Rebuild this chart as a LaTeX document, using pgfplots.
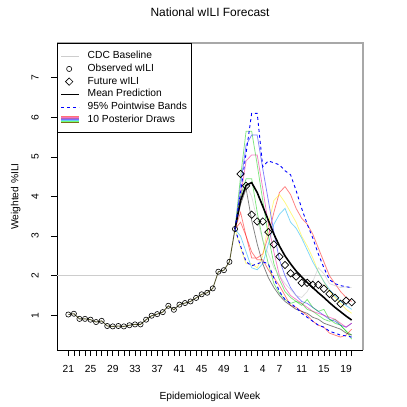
\documentclass[border=0pt]{standalone}
\usepackage{fontspec}
\setmainfont{Liberation Sans}
\usepackage{pgfplots}
\usepackage{pgfplotstable}
\pgfplotsset{compat=1.18}
\usetikzlibrary{calc}

\definecolor{histline}{RGB}{88,88,48}
\definecolor{cdcgray}{RGB}{205,205,205}
\definecolor{framegray}{RGB}{168,168,168}
\definecolor{green3}{RGB}{0,205,0}
\definecolor{gray62}{RGB}{190,190,190}
\definecolor{bandblue}{RGB}{0,0,255}

\newcommand{\fs}{\fontsize{10.3}{12}\selectfont}

% observed wILI, season index 1 = week 21
\pgfplotstableread{
idx val
1 1.02
2 1.04
3 0.91
4 0.91
5 0.89
6 0.83
7 0.86
8 0.73
9 0.72
10 0.73
11 0.72
12 0.75
13 0.77
14 0.77
15 0.89
16 0.99
17 1.03
18 1.08
19 1.24
20 1.14
21 1.27
22 1.31
23 1.35
24 1.44
25 1.53
26 1.57
27 1.68
28 2.10
29 2.14
30 2.35
31 3.18
}\observed

% future wILI (held out)
\pgfplotstableread{
idx val
32 4.57
33 4.27
34 3.54
35 3.37
36 3.37
37 3.10
38 2.79
39 2.48
40 2.27
41 2.06
42 1.98
43 1.82
44 1.82
45 1.77
46 1.77
47 1.67
48 1.54
49 1.44
50 1.29
51 1.37
52 1.33
}\future

% mean, 95% bands and 10 posterior draws
\pgfplotstableread{
idx mean lo hi d1 d2 d3 d4 d5 d6 d7 d8 d9 d10
31 3.18 3.18 3.18 3.18 3.18 3.18 3.18 3.18 3.18 3.18 3.18 3.18 3.18
32 3.90 2.75 4.10 3.60 2.70 3.00 4.50 4.30 4.00 4.00 3.90 3.35 3.80
33 4.28 2.35 5.10 3.00 2.30 2.60 5.65 5.30 4.90 4.45 4.30 3.00 4.20
34 4.35 2.25 6.10 2.45 2.30 2.20 5.65 5.55 5.05 4.45 4.00 2.60 3.40
35 4.10 2.30 6.10 2.45 2.20 2.15 4.80 5.55 5.05 3.60 3.40 2.40 2.80
36 3.75 2.35 4.75 2.55 2.50 2.30 3.90 4.70 4.20 2.90 2.90 2.40 2.30
37 3.40 2.30 4.90 3.00 3.30 2.80 3.00 3.90 3.30 2.30 2.55 2.15 1.95
38 3.05 1.95 4.85 3.60 3.90 3.30 2.30 3.10 2.60 1.80 2.20 1.95 1.70
39 2.75 1.60 4.80 4.10 4.05 3.55 1.90 2.40 2.00 1.55 2.00 1.75 1.50
40 2.50 1.40 4.65 4.25 3.85 3.70 1.60 2.00 1.70 1.40 1.80 1.50 1.35
41 2.30 1.30 4.55 4.05 3.60 3.35 1.45 1.70 1.50 1.30 1.65 1.25 1.25
42 2.12 1.20 4.15 3.70 3.35 3.20 1.35 1.50 1.40 1.35 1.50 1.20 1.15
43 1.97 1.05 3.70 3.45 3.00 2.95 1.30 1.35 1.30 1.25 1.45 1.10 1.10
44 1.83 0.95 3.30 3.30 2.75 2.65 1.15 1.30 1.20 1.40 1.60 1.00 1.05
45 1.70 0.85 2.95 3.05 2.45 2.35 1.10 1.20 1.10 1.20 1.85 0.85 0.95
46 1.57 0.75 2.55 2.70 2.10 2.10 1.00 1.10 1.05 1.10 2.20 0.75 0.90
47 1.45 0.70 2.20 2.35 1.85 1.85 0.90 1.00 1.00 1.15 2.05 0.70 0.80
48 1.32 0.60 1.90 2.00 1.60 1.65 0.85 0.90 0.95 0.90 1.80 0.55 0.75
49 1.20 0.55 1.80 1.80 1.45 1.50 0.90 0.85 0.90 0.80 1.75 0.50 0.70
50 1.09 0.50 1.75 1.60 1.30 1.35 0.75 0.75 0.80 0.75 1.70 0.45 0.65
51 0.98 0.48 1.72 1.45 1.15 1.25 0.60 0.70 0.70 0.60 1.72 0.50 0.55
52 0.88 0.45 1.70 1.35 1.05 1.15 0.50 0.80 0.80 0.40 1.70 0.65 0.50
}\forecast

\pgfplotsset{pdraw/.style={no marks, line width=0.75bp, opacity=0.5, forget plot, #1}}

\begin{document}
\begin{tikzpicture}
\begin{axis}[
    scale only axis,
    width=306bp, height=307bp,
    xmin=-1.04, xmax=54.04,
    ymin=0.124, ymax=7.876,
    clip=false,
    axis x line*=bottom, axis y line*=left,
    axis line style={black, line width=0.75bp},
    tick align=outside,
    major tick length=6bp,
    every tick/.style={black, line width=0.6bp},
    xtick={1,...,52},
    xticklabels={21,{},{},{},25,{},{},{},29,{},{},{},33,{},{},{},37,{},{},{},41,{},{},{},45,{},{},{},49,{},{},{},1,{},{},4,{},{},7,{},{},{},11,{},{},{},15,{},{},{},19,{}},
    ytick={1,...,7},
    yticklabels={1,2,3,4,5,6,7},
    xticklabel style={font=\fs, anchor=base, inner sep=0pt},
    yticklabel style={font=\fs, rotate=90, anchor=base, inner sep=0pt},
    xticklabel shift=16.7bp,
    yticklabel shift=12.4bp,
    legend cell align=left,
    legend style={at={(0,1)}, anchor=north west, draw=black, line width=0.75bp,
        fill=white, font=\fs, inner xsep=3bp, inner ysep=6.5bp,
        row sep=0pt, column sep=6.5bp,
        nodes={inner sep=1.25bp, text height=7.7bp, text depth=2.5bp}},
]
\addplot[cdcgray, line width=1.3bp, forget plot] coordinates {(-1.04,2) (54.04,2)};

\addplot[pdraw=red]      table[x=idx, y=d1]  {\forecast};
\addplot[pdraw=yellow]   table[x=idx, y=d2]  {\forecast};
\addplot[pdraw=cyan]     table[x=idx, y=d3]  {\forecast};
\addplot[pdraw=green3]   table[x=idx, y=d4]  {\forecast};
\addplot[pdraw=blue]     table[x=idx, y=d5]  {\forecast};
\addplot[pdraw=magenta]  table[x=idx, y=d6]  {\forecast};
\addplot[pdraw=green3]   table[x=idx, y=d7]  {\forecast};
\addplot[pdraw=gray62]   table[x=idx, y=d8]  {\forecast};
\addplot[pdraw=red]      table[x=idx, y=d9]  {\forecast};
\addplot[pdraw=black]    table[x=idx, y=d10] {\forecast};

\addplot[black, line width=1.6bp, no marks, forget plot] table[x=idx, y=mean] {\forecast};
\addplot[bandblue, line width=0.9bp, dash pattern=on 3bp off 3bp, no marks, forget plot] table[x=idx, y=lo] {\forecast};
\addplot[bandblue, line width=0.9bp, dash pattern=on 3bp off 3bp, no marks, forget plot] table[x=idx, y=hi] {\forecast};

\addplot[histline, line width=0.9bp, no marks, forget plot] table[x=idx, y=val] {\observed};
\addplot[only marks, mark=o, mark size=2.6bp, mark options={black, line width=0.6bp}, forget plot]
    table[x=idx, y=val] {\observed};
\addplot[only marks, mark=square, mark size=2.6bp, mark options={black, line width=0.7bp, rotate=45}, forget plot]
    table[x=idx, y=val] {\future};

\draw[framegray, line width=1.5bp] (rel axis cs:0,1) -- (rel axis cs:1,1) -- (rel axis cs:1,0);

\addlegendimage{legend image code/.code={\draw[draw=cdcgray, line width=1.2bp] (0bp,0bp) -- (18bp,0bp);}}
\addlegendentry{CDC Baseline}
\addlegendimage{legend image code/.code={\draw[draw=black, line width=0.6bp] (8bp,0bp) circle (2.6bp);}}
\addlegendentry{Observed wILI}
\addlegendimage{legend image code/.code={\draw[draw=black, line width=0.7bp] (8bp,3.7bp) -- (11.7bp,0bp) -- (8bp,-3.7bp) -- (4.3bp,0bp) -- cycle;}}
\addlegendentry{Future wILI}
\addlegendimage{legend image code/.code={\draw[draw=black, line width=1.6bp] (0bp,0bp) -- (18bp,0bp);}}
\addlegendentry{Mean Prediction}
\addlegendimage{legend image code/.code={\draw[draw=bandblue, line width=0.9bp, dash pattern=on 3bp off 3bp] (0bp,0bp) -- (18bp,0bp);}}
\addlegendentry{95\% Pointwise Bands}
\addlegendimage{legend image code/.code={
    \draw[draw=red!55, line width=0.9bp] (0bp,3.15bp) -- (18bp,3.15bp);
    \draw[draw=magenta!55, line width=0.9bp] (0bp,2.25bp) -- (18bp,2.25bp);
    \draw[draw=violet!60, line width=0.9bp] (0bp,1.35bp) -- (18bp,1.35bp);
    \draw[draw=blue!55, line width=0.9bp] (0bp,0.45bp) -- (18bp,0.45bp);
    \draw[draw=cyan!60, line width=0.9bp] (0bp,-0.45bp) -- (18bp,-0.45bp);
    \draw[draw=green!55, line width=0.9bp] (0bp,-1.35bp) -- (18bp,-1.35bp);
    \draw[draw=yellow!70!black, line width=0.9bp] (0bp,-2.25bp) -- (18bp,-2.25bp);
    \draw[draw=olive!80!black, line width=0.9bp] (0bp,-3.15bp) -- (18bp,-3.15bp);
}}
\addlegendentry{10 Posterior Draws}

\coordinate (sw) at (rel axis cs:0,0);
\coordinate (se) at (rel axis cs:1,0);
\coordinate (nw) at (rel axis cs:0,1);
\coordinate (ne) at (rel axis cs:1,1);
\end{axis}

\node[anchor=base, font=\fontsize{12}{14}\selectfont] at ($(nw)!0.5!(ne)+(0,26.3bp)$) {National wILI Forecast};
\node[anchor=base, font=\fs] at ($(sw)!0.5!(se)+(0,-49bp)$) {Epidemiological Week};
\node[anchor=base, font=\fs, rotate=90] at ($(sw)!0.5!(nw)+(-38.7bp,0)$) {Weighted \%ILI};

\pgfresetboundingbox
\path[use as bounding box] ($(sw)+(-57bp,-57bp)$) rectangle ($(ne)+(44bp,43bp)$);
\end{tikzpicture}
\end{document}
